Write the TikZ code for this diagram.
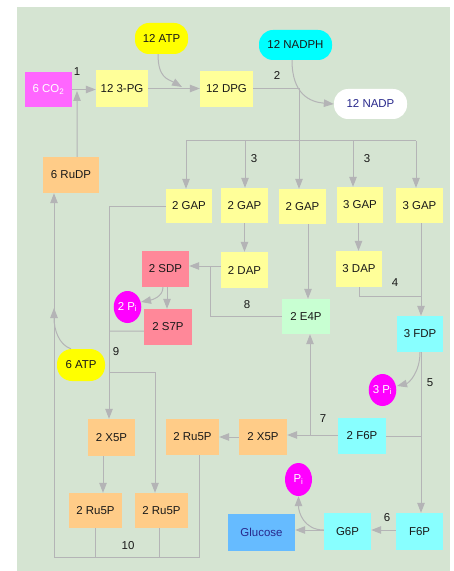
\documentclass[tikz,border=0pt]{standalone}
\usepackage{fontspec}
\setmainfont{Liberation Sans}
\usetikzlibrary{arrows.meta,shapes.geometric}
\definecolor{bgc}{RGB}{213,228,210}
\definecolor{linec}{RGB}{180,180,182}
\definecolor{yelc}{RGB}{255,255,153}
\definecolor{co2c}{RGB}{255,102,255}
\definecolor{atpc}{RGB}{255,255,0}
\definecolor{cyanc}{RGB}{0,255,255}
\definecolor{orc}{RGB}{255,204,136}
\definecolor{redc}{RGB}{255,136,153}
\definecolor{grc}{RGB}{200,255,210}
\definecolor{lcyc}{RGB}{136,255,255}
\definecolor{bluec}{RGB}{102,187,255}
\definecolor{pic}{RGB}{255,0,255}
\definecolor{navyc}{RGB}{40,40,140}
\definecolor{txtc}{RGB}{25,25,25}
\begin{document}
\begin{tikzpicture}[x=1bp,y=-1bp,
  font=\fontsize{11.5}{12}\selectfont,
  box/.style={inner sep=0pt,text=txtc},
  sz/.style 2 args={minimum width=#1bp,minimum height=#2bp},
  pill/.style={inner sep=0pt,text=txtc,rounded corners=14bp},
  oval/.style={ellipse,inner sep=0pt,fill=pic,text=white},
  ln/.style={draw=linec,line width=1bp},
  arr/.style={ln,-{Triangle[length=10bp,width=7.5bp]}},
  lab/.style={inner sep=0pt,text=txtc}]
\useasboundingbox (0,0) rectangle (454,571);
\fill[white] (0,0) rectangle (454,571);
\fill[bgc] (17,7) rectangle (450,571);

% nodes
\node[box,fill=co2c,text=white,sz={47}{35}] (co2) at (48.5,89.5) {6 CO\textsubscript{2}};
\node[box,fill=yelc,sz={52}{37}] (pg) at (122,88.5) {12 3-PG};
\node[pill,fill=atpc,sz={53}{31}] (atp12) at (161.5,38.5) {12 ATP};
\node[box,fill=yelc,sz={53}{36}] (dpg) at (226.5,89) {12 DPG};
\node[pill,fill=cyanc,sz={73}{30}] (nadph) at (295.5,45) {12 NADPH};
\node[pill,fill=white,text=navyc,sz={73}{30}] (nadp) at (370.5,104) {12 NADP};
\node[box,fill=orc,sz={56}{36}] (rudp) at (71,175) {6 RuDP};
\node[box,fill=yelc,sz={46}{34}] (gap1) at (189,206) {2 GAP};
\node[box,fill=yelc,sz={47}{35}] (gap2) at (244.5,205.5) {2 GAP};
\node[box,fill=yelc,sz={47}{35}] (gap3) at (302.5,206.5) {2 GAP};
\node[box,fill=yelc,sz={46}{36}] (gap4) at (360,205) {3 GAP};
\node[box,fill=yelc,sz={47}{35}] (gap5) at (419.5,205.5) {3 GAP};
\node[box,fill=yelc,sz={47}{36}] (dap2) at (244.5,270) {2 DAP};
\node[box,fill=redc,sz={47}{36}] (sdp) at (165.5,269) {2 SDP};
\node[box,fill=yelc,sz={46}{36}] (dap3) at (359,269) {3 DAP};
\node[oval,minimum width=25bp,minimum height=32bp] (pi2) at (127.5,307) {2 P\textsubscript{i}};
\node[box,fill=redc,sz={48}{36}] (s7p) at (168,327) {2 S7P};
\node[box,fill=grc,sz={48}{35}] (e4p) at (306,316.5) {2 E4P};
\node[box,fill=lcyc,sz={46}{36}] (fdp) at (420,334) {3 FDP};
\node[oval,minimum width=27bp,minimum height=32bp] (pi3) at (382.5,390) {3 P\textsubscript{i}};
\node[pill,fill=atpc,sz={48}{32},rounded corners=15bp] (atp6) at (81,365) {6 ATP};
\node[box,fill=orc,sz={47}{37}] (x5p1) at (111.5,437.5) {2 X5P};
\node[box,fill=orc,sz={53}{36}] (ru5pm) at (192.5,437) {2 Ru5P};
\node[box,fill=orc,sz={48}{36}] (x5p2) at (263,437) {2 X5P};
\node[box,fill=lcyc,sz={48}{36}] (f6p2) at (362,436) {2 F6P};
\node[box,fill=orc,sz={53}{35}] (ru5p1) at (95.5,510.5) {2 Ru5P};
\node[box,fill=orc,sz={53}{35}] (ru5p2) at (161.5,510.5) {2 Ru5P};
\node[oval,minimum width=27bp,minimum height=33bp] (pi1) at (298.5,479.5) {P\textsubscript{i}};
\node[box,fill=bluec,text=navyc,sz={67}{37}] (glc) at (261.5,532.5) {Glucose};
\node[box,fill=lcyc,sz={47}{37}] (g6p) at (347.5,531.5) {G6P};
\node[box,fill=lcyc,sz={47}{37}] (f6p) at (419.5,531.5) {F6P};

% helper coordinates
\coordinate (atpj) at (182,87);
\coordinate (rj) at (77,91);
\coordinate (d1) at (186,141);
\coordinate (d2) at (245,141);
\coordinate (d4) at (353,141);
\coordinate (d5) at (416,141);
\coordinate (v9) at (109,331);
\coordinate (j8) at (210,266);
\coordinate (p2t) at (141,302);
\coordinate (j4) at (421,296);
\coordinate (j7) at (310,435);
\coordinate (j9) at (109,372);
\coordinate (aj) at (54,308);
\coordinate (bl) at (54,557);
\coordinate (p3t) at (397,386);

% connectors
\draw[arr] (co2.east) -- (co2.east -| pg.west);
\draw[arr] (pg.east) -- (pg.east -| dpg.west);
\draw[arr] ([xshift=-3.5bp]atp12.south) .. controls +(0,24) and +(-14,-8) .. (atpj);
\draw[arr] ([xshift=-3.5bp]nadph.south) .. controls +(0,34) and +(-24,-2) .. (nadp.west);
\draw[arr] ([xshift=6bp]rudp.north) -- (rj);
\draw[arr] (dpg.east) -| ([xshift=-3.5bp]gap3.north);
\draw[ln] (d1) -- (d5);
\draw[arr] (d1) -- (d1 |- gap1.north);
\draw[arr] (d2) -- (d2 |- gap2.north);
\draw[arr] (d4) -- (d4 |- gap4.north);
\draw[arr] (d5) -- (d5 |- gap5.north);
\draw[arr] (gap1.west) -| ([xshift=-2.5bp]x5p1.north);
\draw[ln] ([yshift=-4bp]s7p.west) -- (v9);
\draw[arr] (gap2.south) -- (dap2.north);
\draw[arr] ([yshift=4bp]dap2.west) -- ([yshift=4bp]dap2.west -| sdp.east);
\draw[ln] (j8) |- (e4p.west);
\draw[arr] ([xshift=5.5bp]gap3.south) -- ([xshift=5.5bp]gap3.south |- e4p.north);
\draw[arr] ([xshift=1.5bp]sdp.south) -- ([xshift=1.5bp]sdp.south |- s7p.north);
\draw[arr] ([xshift=-2.5bp]sdp.south) .. controls +(0,10) and +(10,-2) .. (p2t);
\draw[arr] ([xshift=-1.5bp]gap4.south) -- ([xshift=-1.5bp]gap4.south |- dap3.north);
\draw[ln] (dap3.south) |- (j4);
\draw[arr] ([xshift=1.5bp]gap5.south) -- ([xshift=1.5bp]gap5.south |- fdp.north);
\draw[arr] (fdp.south) .. controls +(0,20) and +(12,-3) .. (p3t);
\draw[arr] ([xshift=1bp]fdp.south) -- ([xshift=1bp]fdp.south |- f6p.north);
\draw[ln] (f6p2.east) -- (f6p2.east -| j4);
\draw[arr] ([yshift=1bp]f6p2.west) -- ([yshift=1bp]f6p2.west -| x5p2.east);
\draw[arr] (j7) -- (j7 |- e4p.south);
\draw[arr] (x5p2.west) -- (x5p2.west -| ru5pm.east);
\draw[arr] (j9) -| ([xshift=-6.5bp]ru5p2.north);
\draw[arr] ([xshift=-10bp]atp6.north) .. controls +(-12,-4) and +(0,22) .. (aj);
\draw[arr] (bl) -- (bl |- rudp.south);
\draw[arr] ([xshift=-8.5bp]x5p1.south) -- ([xshift=-8.5bp]x5p1.south |- ru5p1.north);
\draw[ln] ([xshift=6.5bp]ru5pm.south) |- (bl);
\draw[ln] (ru5p1.south) -- (ru5p1.south |- bl);
\draw[ln] ([xshift=-2.5bp]ru5p2.south) -- ([xshift=-2.5bp]ru5p2.south |- bl);
\draw[arr] ([yshift=1.5bp]f6p.west) -- ([yshift=1.5bp]f6p.west -| g6p.east);
\draw[arr] ([yshift=1.5bp]g6p.west) -- ([yshift=1.5bp]g6p.west -| glc.east);
\draw[arr] ([yshift=1.5bp]g6p.west) .. controls +(-20,0) and +(0,16) .. (pi1.south);

% step labels
\node[lab] (l1) at (77,72) {1};
\node[lab] (l2) at (277,76) {2};
\node[lab] (l3a) at (254,159) {3};
\node[lab] (l3b) at (367,159) {3};
\node[lab] (l4) at (395,283) {4};
\node[lab] (l5) at (430,383) {5};
\node[lab] (l6) at (387,518) {6};
\node[lab] (l7) at (323,419) {7};
\node[lab] (l8) at (247,305) {8};
\node[lab] (l9) at (116,352) {9};
\node[lab] (l10) at (128,546) {10};
\end{tikzpicture}
\end{document}
